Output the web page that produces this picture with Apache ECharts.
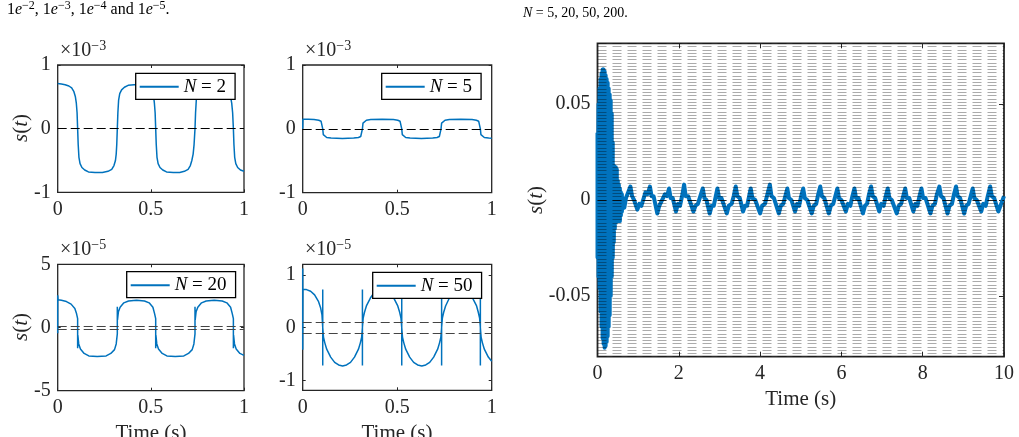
<!DOCTYPE html>
<html>
<head>
<meta charset="utf-8">
<script src="https://cdn.jsdelivr.net/npm/echarts@6/dist/echarts.min.js"></script>
<style>
  html, body { margin: 0; padding: 0; background: #fff; }
  #chart { width: 1019px; height: 437px; }
</style>
</head>
<body>
<div id="chart"></div>
<script>
// s(t) for N = 2 (x1e-3)
var n2 = [[0,0.71],[0.02,0.70],[0.04,0.69],[0.06,0.67],[0.075,0.64],[0.087,0.58],[0.095,0.5],[0.1,0.4],[0.104,0.25],[0.107,0],
  [0.11,-0.25],[0.114,-0.45],[0.12,-0.55],[0.13,-0.61],[0.145,-0.65],[0.165,-0.68],[0.2,-0.69],[0.24,-0.69],[0.27,-0.67],[0.29,-0.64],[0.302,-0.58],[0.31,-0.5],[0.314,-0.4],[0.317,-0.25],[0.32,0],
  [0.323,0.25],[0.327,0.45],[0.333,0.55],[0.343,0.61],[0.358,0.65],[0.378,0.68],[0.41,0.69],[0.45,0.69],[0.475,0.67],[0.495,0.64],[0.507,0.58],[0.515,0.5],[0.519,0.4],[0.523,0.25],[0.526,0],
  [0.529,-0.25],[0.533,-0.45],[0.539,-0.55],[0.549,-0.61],[0.564,-0.65],[0.584,-0.68],[0.62,-0.69],[0.655,-0.69],[0.68,-0.67],[0.7,-0.64],[0.712,-0.58],[0.72,-0.5],[0.727,-0.4],[0.732,-0.25],[0.737,0],
  [0.74,0.25],[0.744,0.45],[0.75,0.55],[0.76,0.61],[0.775,0.65],[0.795,0.68],[0.83,0.69],[0.865,0.69],[0.89,0.67],[0.908,0.64],[0.92,0.58],[0.928,0.5],[0.934,0.4],[0.939,0.25],[0.943,0],
  [0.946,-0.25],[0.95,-0.45],[0.956,-0.55],[0.966,-0.61],[0.981,-0.65],[1.0,-0.67]];

// s(t) for N = 5 (x1e-3)
var n5 = [[0,0],[0.001,0.15],[0.03,0.15],[0.06,0.145],[0.085,0.135],[0.097,0.12],[0.103,0.09],[0.106,0],
  [0.109,-0.09],[0.115,-0.12],[0.127,-0.135],[0.15,-0.145],[0.21,-0.15],[0.27,-0.145],[0.295,-0.135],[0.307,-0.12],[0.313,-0.09],[0.316,0],
  [0.319,0.09],[0.325,0.12],[0.337,0.135],[0.36,0.145],[0.42,0.15],[0.48,0.145],[0.503,0.135],[0.515,0.12],[0.521,0.09],[0.524,0],
  [0.527,-0.09],[0.533,-0.12],[0.545,-0.135],[0.568,-0.145],[0.628,-0.15],[0.688,-0.145],[0.711,-0.135],[0.723,-0.12],[0.729,-0.09],[0.732,0],
  [0.735,0.09],[0.741,0.12],[0.753,0.135],[0.776,0.145],[0.836,0.15],[0.896,0.145],[0.919,0.135],[0.931,0.12],[0.937,0.09],[0.94,0],
  [0.943,-0.09],[0.949,-0.12],[0.961,-0.135],[0.984,-0.145],[1.0,-0.148]];

// s(t) for N = 20 (x1e-5)
var n20 = [[0,-0.45],[0,2.55],[0.002,2.2],[0.02,2.15],[0.047,2.05],[0.072,1.85],[0.092,1.5],[0.101,1.1],[0.107,0.7],
  [0.107,-1.65],[0.108,-0.6],[0.113,-1.3],[0.122,-1.7],[0.142,-2.05],[0.167,-2.25],[0.212,-2.3],[0.26,-2.25],[0.285,-2.05],[0.305,-1.75],[0.314,-1.3],[0.32,-0.5],
  [0.32,1.65],[0.321,0.6],[0.326,1.25],[0.335,1.6],[0.355,1.95],[0.38,2.1],[0.423,2.15],[0.466,2.1],[0.491,1.95],[0.511,1.6],[0.52,1.1],[0.526,0.7],
  [0.526,-1.65],[0.527,-0.6],[0.532,-1.3],[0.541,-1.7],[0.561,-2.05],[0.586,-2.25],[0.631,-2.3],[0.677,-2.25],[0.702,-2.05],[0.722,-1.75],[0.731,-1.3],[0.737,-0.5],
  [0.737,1.65],[0.738,0.6],[0.743,1.25],[0.752,1.6],[0.772,1.95],[0.797,2.1],[0.84,2.15],[0.883,2.1],[0.908,1.95],[0.928,1.6],[0.937,1.1],[0.943,0.7],
  [0.943,-1.65],[0.944,-0.6],[0.949,-1.3],[0.958,-1.7],[0.978,-2.05],[1.0,-2.2]];

// s(t) for N = 50 (x1e-5)
var n50 = [[0,1.12],[0,-0.42],[0.001,0.72],[0.02,0.72],[0.042,0.69],[0.063,0.62],[0.084,0.49],[0.095,0.37],[0.102,0.24],[0.106,0],
  [0.106,-0.72],[0.106,0.72],[0.106,0],
  [0.11,-0.18],[0.117,-0.29],[0.127,-0.41],[0.148,-0.56],[0.169,-0.66],[0.19,-0.71],[0.211,-0.73],[0.232,-0.71],[0.253,-0.66],[0.274,-0.56],[0.295,-0.41],[0.305,-0.29],[0.312,-0.18],[0.316,0],
  [0.316,0.72],[0.316,-0.72],[0.316,0],
  [0.32,0.18],[0.327,0.29],[0.337,0.41],[0.358,0.56],[0.378,0.66],[0.399,0.71],[0.42,0.73],[0.441,0.71],[0.462,0.66],[0.482,0.56],[0.503,0.41],[0.513,0.29],[0.52,0.18],[0.524,0],
  [0.524,-0.72],[0.524,0.72],[0.524,0],
  [0.528,-0.18],[0.535,-0.29],[0.545,-0.41],[0.566,-0.56],[0.587,-0.66],[0.608,-0.71],[0.63,-0.73],[0.651,-0.71],[0.672,-0.66],[0.693,-0.56],[0.714,-0.41],[0.724,-0.29],[0.731,-0.18],[0.735,0],
  [0.735,0.72],[0.735,-0.72],[0.735,0],
  [0.739,0.18],[0.746,0.29],[0.756,0.41],[0.776,0.56],[0.797,0.66],[0.817,0.71],[0.838,0.73],[0.858,0.71],[0.879,0.66],[0.899,0.56],[0.92,0.41],[0.929,0.29],[0.936,0.18],[0.94,0],
  [0.94,-0.72],[0.94,0.72],[0.94,0],
  [0.944,-0.18],[0.951,-0.29],[0.961,-0.41],[0.982,-0.56],[1.0,-0.64]];

// N = 200, first 0.6 s: upper / lower envelope of the fast oscillation
var burstT   = [0,0.025,0.05,0.075,0.1,0.125,0.15,0.175,0.2,0.225,0.25,0.275,0.3,0.325,0.35,0.375,0.4,0.425,0.45,0.475,0.5,0.525,0.55,0.575,0.6];
var burstTop = [0.035,0.05,0.058,0.063,0.066,0.068,0.068,0.067,0.065,0.063,0.061,0.058,0.055,0.052,0.045,0.03,0.018,0.012,0.017,0.016,0.01,0.008,0.006,0.004,0.003];
var burstBot = [-0.03,-0.04,-0.046,-0.058,-0.066,-0.072,-0.075,-0.077,-0.076,-0.074,-0.071,-0.066,-0.06,-0.05,-0.04,-0.03,-0.022,-0.015,-0.012,-0.01,-0.011,-0.01,-0.011,-0.008,-0.006];

// N = 200, after 0.6 s
var wave = [[0.62,0.001],[0.66,-0.004],[0.70,0.001],[0.74,0.002],[0.81,0.007],[0.85,0.002],[0.90,0.000],[0.98,-0.005],[1.03,-0.002],[1.08,-0.003],[1.18,0.004],[1.23,0.003],
  [1.29,0.007],[1.33,0.002],[1.38,0.002],[1.47,-0.007],[1.52,-0.003],[1.56,-0.004],[1.66,0.003],[1.71,0.002],
  [1.76,0.006],[1.80,0.001],[1.85,0.001],[1.93,-0.006],[1.98,-0.002],[2.03,-0.003],[2.09,0.003],
  [2.13,0.008],[2.17,0.002],[2.23,0.002],[2.36,-0.006],[2.41,-0.003],[2.47,-0.002],[2.53,0.002],
  [2.59,0.006],[2.63,0.001],[2.68,0.000],[2.76,-0.007],[2.81,-0.003],[2.86,-0.003],[2.91,0.002],
  [2.95,0.006],[2.99,0.001],[3.05,0.001],[3.18,-0.007],[3.23,-0.003],[3.30,-0.002],[3.35,0.002],
  [3.40,0.007],[3.44,0.002],[3.50,0.001],[3.58,-0.006],[3.63,-0.003],[3.68,-0.003],[3.73,0.002],
  [3.77,0.006],[3.81,0.001],[3.88,0.000],[4.00,-0.007],[4.05,-0.003],[4.12,-0.002],[4.18,0.003],
  [4.24,0.008],[4.28,0.002],[4.34,0.001],[4.46,-0.007],[4.51,-0.003],[4.57,-0.002],[4.62,0.002],
  [4.67,0.006],[4.71,0.001],[4.77,0.000],[4.86,-0.006],[4.91,-0.002],[4.96,-0.003],[5.01,0.002],
  [5.06,0.006],[5.10,0.001],[5.16,0.000],[5.27,-0.007],[5.32,-0.003],[5.38,-0.002],[5.43,0.003],
  [5.48,0.007],[5.52,0.002],[5.58,0.001],[5.69,-0.007],[5.74,-0.003],[5.80,-0.002],[5.85,0.002],
  [5.90,0.006],[5.94,0.001],[6.00,0.000],[6.11,-0.006],[6.16,-0.002],[6.22,-0.003],[6.27,0.002],
  [6.32,0.006],[6.36,0.001],[6.42,0.001],[6.53,-0.007],[6.58,-0.003],[6.63,-0.002],[6.68,0.003],
  [6.73,0.007],[6.77,0.002],[6.83,0.001],[6.93,-0.006],[6.98,-0.002],[7.04,-0.003],[7.09,0.002],
  [7.14,0.006],[7.18,0.001],[7.24,0.000],[7.36,-0.007],[7.41,-0.003],[7.47,-0.002],[7.52,0.002],
  [7.57,0.006],[7.61,0.001],[7.67,0.001],[7.77,-0.006],[7.82,-0.002],[7.87,-0.003],[7.92,0.002],
  [7.97,0.006],[8.01,0.001],[8.07,0.001],[8.19,-0.007],[8.24,-0.003],[8.30,-0.002],[8.35,0.003],
  [8.41,0.007],[8.45,0.002],[8.51,0.001],[8.61,-0.007],[8.66,-0.003],[8.72,-0.002],[8.77,0.003],
  [8.82,0.007],[8.86,0.002],[8.92,0.001],[9.02,-0.007],[9.07,-0.003],[9.13,-0.002],[9.18,0.002],
  [9.23,0.006],[9.27,0.001],[9.33,0.000],[9.44,-0.006],[9.49,-0.002],[9.55,-0.003],[9.60,0.002],
  [9.66,0.007],[9.70,0.002],[9.76,0.001],[9.86,-0.006],[9.93,-0.002],[10.0,0.002]];

var yTicks4 = [-1, 0, 1];
var yTicksBig = [-0.05, 0, 0.05];

var FONT = 'Liberation Serif';
var INK = '#262626';
var BLUE = '#0072BD';

var grids = [
  {left: 57.7, top: 65, width: 186.3, height: 127.3},
  {left: 302.7, top: 65, width: 189, height: 127.7},
  {left: 57.7, top: 264.3, width: 186.3, height: 126.4},
  {left: 302.7, top: 264.3, width: 189, height: 126},
  {left: 597.5, top: 43.3, width: 406.5, height: 313.4}
];
grids.forEach(function (g, i) {
  g.show = true;
  g.borderColor = INK;
  g.borderWidth = i === 4 ? 1.8 : 1.3;
  g.backgroundColor = 'transparent';
});

var labelStyle = {color: INK, fontFamily: FONT, fontSize: 20};
var nameStyle = {color: INK, fontFamily: FONT, fontSize: 21};

function xPair(gi, min, max, interval, tick, name) {
  var base = {
    gridIndex: gi, type: 'value', min: min, max: max, interval: interval,
    splitLine: {show: false}, axisLine: {show: false, onZero: false},
    axisTick: {inside: true, length: tick, lineStyle: {color: INK, width: 1}}
  };
  var bottom = Object.assign({}, base, {
    position: 'bottom',
    axisLabel: Object.assign({margin: 7}, labelStyle),
    name: name || '', nameLocation: 'middle', nameGap: 31, nameTextStyle: nameStyle
  });
  var top = Object.assign({}, base, {position: 'top', axisLabel: {show: false}});
  return [bottom, top];
}

function yPair(gi, min, max, interval, tick, custom) {
  var base = {
    gridIndex: gi, type: 'value', min: min, max: max,
    splitLine: {show: false}, axisLine: {show: false, onZero: false},
    axisTick: {inside: true, length: tick, lineStyle: {color: INK, width: 1}}
  };
  if (custom) base.axisTick.customValues = custom; else base.interval = interval;
  var lab = Object.assign({margin: 7}, labelStyle);
  if (custom) lab.customValues = custom;
  var left = Object.assign({}, base, {position: 'left', axisLabel: lab});
  var right = Object.assign({}, base, {position: 'right', axisLabel: {show: false}});
  return [left, right];
}

var xAxis = [].concat(
  xPair(0, 0, 1, 0.5, 3),
  xPair(1, 0, 1, 0.5, 3),
  xPair(2, 0, 1, 0.5, 3),
  xPair(3, 0, 1, 0.5, 3),
  xPair(4, 0, 10, 2, 5, 'Time (s)')
);
var yAxis = [].concat(
  yPair(0, -1, 1, 1, 3),
  yPair(1, -1, 1, 1, 3),
  yPair(2, -5, 5, 5, 3),
  yPair(3, -1.19, 1.2, null, 3, yTicks4),
  yPair(4, -0.0816, 0.0816, null, 5, yTicksBig)
);
// dense dashed reference lines of the big panel
yAxis.push({
  gridIndex: 4, type: 'value', min: -0.0816, max: 0.0816, interval: 0.0017,
  position: 'left', z: 10,
  axisLine: {show: false, onZero: false}, axisTick: {show: false}, axisLabel: {show: false},
  splitLine: {show: true, lineStyle: {color: 'rgba(0,0,0,0.33)', width: 1, type: [9, 6]}}
});

function refLines(vals, color, dash) {
  return {
    silent: true, symbol: 'none', label: {show: false}, animation: false,
    lineStyle: {color: color, width: 1, type: dash},
    data: vals.map(function (v) { return {yAxis: v}; })
  };
}

function smallSeries(name, idx, data, lines) {
  return {
    type: 'line', name: name, xAxisIndex: 2 * idx, yAxisIndex: 2 * idx,
    data: data, symbol: 'none', showSymbol: false,
    lineStyle: {color: BLUE, width: 1.5}, itemStyle: {color: BLUE},
    markLine: lines
  };
}

// zigzag between the envelopes, then the slow wave
var big = [];
burstT.forEach(function (t, i) {
  big.push([t, burstTop[i]]);
  big.push([t, burstBot[i]]);
});
big = big.concat(wave);

var series = [
  smallSeries('N = 2', 0, n2, refLines([0], '#000', [9, 4])),
  smallSeries('N = 5', 1, n5, refLines([0], '#000', [9, 4])),
  smallSeries('N = 20', 2, n20, refLines([-0.12, 0.12], '#444', [9, 4])),
  smallSeries('N = 50', 3, n50, refLines([-0.1, 0.1], '#444', [9, 4])),
  {
    type: 'line', name: 'N = 200', xAxisIndex: 8, yAxisIndex: 8,
    data: big, symbol: 'none', showSymbol: false,
    lineStyle: {color: BLUE, width: 4, join: 'round'}, itemStyle: {color: BLUE},
    markLine: Object.assign(refLines([0], 'rgba(0,0,0,0.8)', [9, 6]), {z: 12})
  }
];

var legendPos = [[135.7, 73.3], [381.7, 73.3], [126.7, 271.7], [372.7, 272.3]];
var legendNames = ['N = 2', 'N = 5', 'N = 20', 'N = 50'];
var legend = legendNames.map(function (n, i) {
  return {
    data: [n], left: legendPos[i][0], top: legendPos[i][1],
    selectedMode: false, backgroundColor: '#fff',
    borderColor: '#000', borderWidth: 1.3, borderRadius: 0,
    padding: [4, 9, 3, 4], itemWidth: 39, itemHeight: 2, icon: 'rect',
    formatter: function (name) { return '{i|N}' + name.slice(1); },
    textStyle: {
      color: '#000', fontFamily: FONT, fontSize: 19,
      rich: {i: {fontStyle: 'italic', fontFamily: FONT, fontSize: 19, color: '#000'}}
    }
  };
});

var capRich = {
  i: {fontStyle: 'italic', fontFamily: FONT, fontSize: 16, lineHeight: 20},
  s: {fontFamily: FONT, fontSize: 12, lineHeight: 10, verticalAlign: 'top'}
};
var capRich2 = {
  i: {fontStyle: 'italic', fontFamily: FONT, fontSize: 14, lineHeight: 20}
};
var expRich = {
  s: {fontFamily: FONT, fontSize: 14, lineHeight: 14, verticalAlign: 'top', fill: INK}
};
function expText(x, y, p) {
  return {type: 'text', left: x, top: y, style: {
    text: '×10{s|−' + p + '}', fontFamily: FONT, fontSize: 20, lineHeight: 24, fill: INK, rich: expRich
  }};
}
function yName(x, y) {
  return {type: 'text', x: x, y: y, rotation: Math.PI / 2, style: {
    text: '{i|s}({i|t})', fontFamily: FONT, fontSize: 21, fill: INK,
    align: 'center', verticalAlign: 'middle',
    rich: {i: {fontStyle: 'italic', fontFamily: FONT, fontSize: 21, fill: INK}}
  }};
}
function timeName(x, y) {
  return {type: 'text', x: x, y: y, style: {
    text: 'Time (s)', fontFamily: FONT, fontSize: 21, fill: INK, align: 'center', verticalAlign: 'top'
  }};
}

var graphic = [
  {type: 'text', left: 7, top: 0, style: {
    text: '1{i|e}{s|−2}, 1{i|e}{s|−3}, 1{i|e}{s|−4} and 1{i|e}{s|−5}.',
    fontFamily: FONT, fontSize: 16, lineHeight: 20, fill: '#000', rich: capRich
  }},
  {type: 'text', left: 523, top: 3, style: {
    text: '{i|N} = 5, 20, 50, 200.', fontFamily: FONT, fontSize: 14, lineHeight: 20, fill: '#000', rich: capRich2
  }},
  expText(60, 39, 3), expText(305, 39, 3), expText(60, 238, 5), expText(305, 238, 5),
  yName(21, 128), yName(21, 327), yName(536, 200),
  timeName(151, 423), timeName(397, 423)
];

var chart = echarts.init(document.getElementById('chart'));
chart.setOption({
  animation: false,
  backgroundColor: '#fff',
  grid: grids,
  xAxis: xAxis,
  yAxis: yAxis,
  legend: legend,
  graphic: graphic,
  series: series
});
</script>
</body>
</html>
